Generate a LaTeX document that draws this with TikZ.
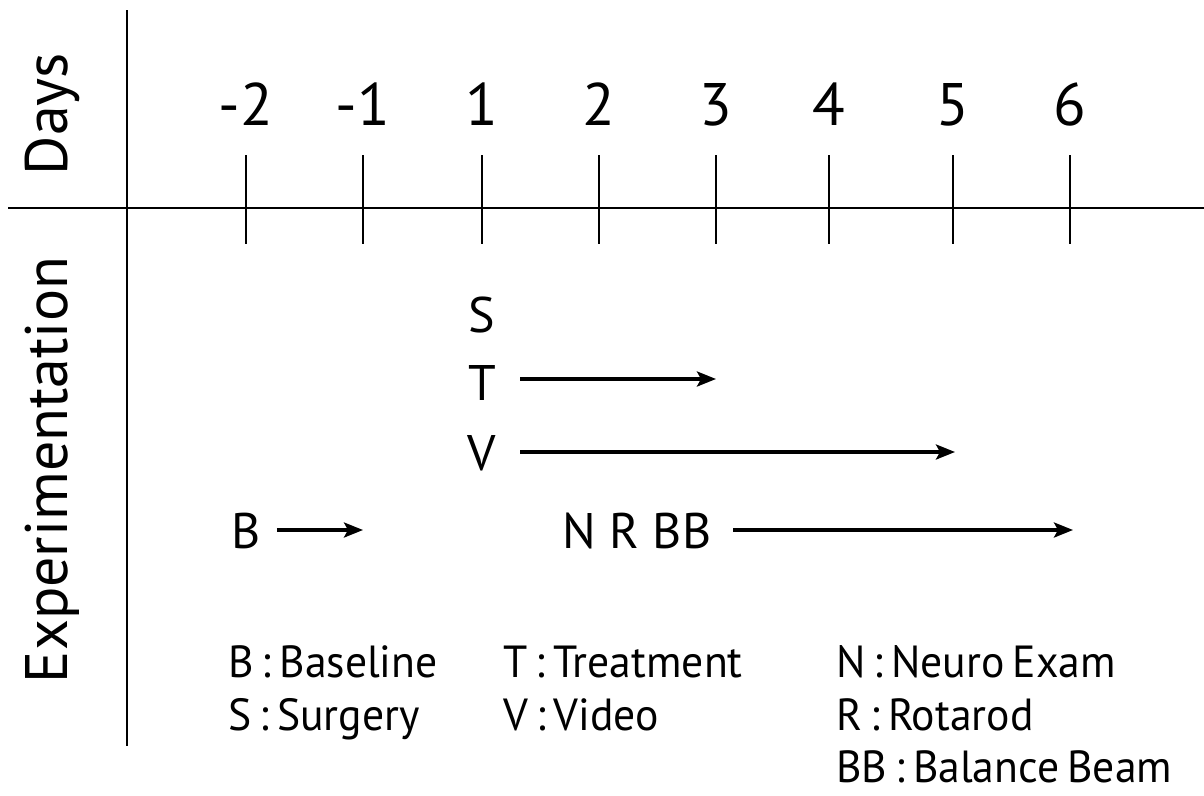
\documentclass[tikz,border=0pt]{standalone}
\usepackage{fontspec}
\setmainfont{PT Sans}
\newfontfamily\legfont[WordSpace=0.7,FakeStretch=0.97]{PT Sans}
\usetikzlibrary{arrows.meta}
\begin{document}
\begin{tikzpicture}[x=1pt,y=-1pt,
  axis/.style={line width=2.6pt},
  tickline/.style={line width=2.6pt},
  arr/.style={line width=3.4pt,-{Stealth[length=19pt,width=15pt,inset=4pt]}},
  daylbl/.style={font=\fontsize{60}{60}\selectfont,inner sep=0pt,anchor=base},
  axlbl/.style={font=\fontsize{60}{60}\selectfont,inner sep=0pt,rotate=90},
  evt/.style={font=\fontsize{50}{50}\selectfont,inner sep=0pt},
  leg/.style={font=\legfont\fontsize{45}{45}\selectfont,inner sep=0pt,anchor=base west}]
\useasboundingbox (0,0) rectangle (1204,795);
% axes
\coordinate (vtop) at (127,10);
\coordinate (vbot) at (127,746);
\coordinate (hl) at (8,208);
\coordinate (hr) at (1204,208);
\draw[axis] (vtop) -- (vbot);
\draw[axis] (hl) -- (hr);
% ticks and day labels
\foreach \x/\d [count=\i] in {246/-2,363/-1,482/1,599/2,716/3,829/4,953/5,1070/6}{
  \coordinate (t\i a) at (\x,155);
  \coordinate (t\i b) at (\x,244);
  \draw[tickline] (t\i a) -- (t\i b);
  \node[daylbl] (d\i) at (\x,125) {\d};
}
\node[axlbl] (days) at (52,114) {Days};
\node[axlbl] (expt) at (52,470) {Experimentation};
% events
\node[evt] (S) at (482,315) {S};
\node[evt] (T) at (482,383) {T};
\node[evt] (V) at (482,453) {V};
\node[evt] (B) at (246,531) {B};
\node[evt] (NRBB) at (637,531) {N R BB};
\coordinate (Tend) at (716,379);
\coordinate (Vend) at (955,452);
\coordinate (Bend) at (363,530);
\coordinate (Nend) at (1073,530);
\draw[arr] ([xshift=24pt]T.east |- Tend) -- (Tend);
\draw[arr] ([xshift=24pt]V.east |- Vend) -- (Vend);
\draw[arr] ([xshift=16pt]B.east |- Bend) -- (Bend);
\draw[arr] ([xshift=22pt]NRBB.east |- Nend) -- (Nend);
% legend
\node[leg] (l1) at (228,677) {B : Baseline};
\node[leg] (l2) at (228,730) {S : Surgery};
\node[leg] (l3) at (503,677) {T : Treatment};
\node[leg] (l4) at (503,730) {V : Video};
\node[leg] (l5) at (836,677) {N : Neuro Exam};
\node[leg] (l6) at (836,730) {R : Rotarod};
\node[leg] (l7) at (836,782) {BB : Balance Beam};
\end{tikzpicture}
\end{document}
